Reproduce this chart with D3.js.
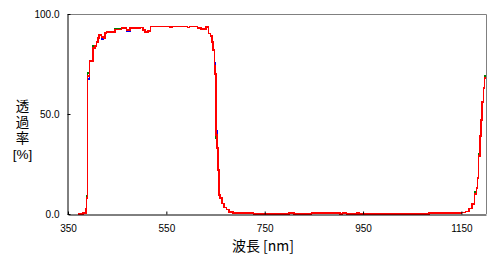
<!DOCTYPE html>
<html>
<head>
<meta charset="utf-8">
<script src="https://cdn.jsdelivr.net/npm/d3@7"></script>
<style>
  body { margin: 0; background: #fff; }
  text { font-family: "Liberation Sans", Arial, sans-serif; }
  .ttl { font-family: "Noto Sans CJK JP", sans-serif; font-size: 14px; }
  .ytl { font-family: "Liberation Sans", "Noto Sans CJK JP", sans-serif; font-size: 13.5px; }
</style>
</head>
<body>
<div id="chart"></div>
<script>
// wavelength steps [nm] and transmittance [%] for three measurements
const wavelength = [370, 381, 386, 388, 390, 394, 401, 405, 408, 411,
  413, 418, 422, 425, 428, 445, 459, 469, 476, 496,
  503, 506, 513, 518, 557, 561, 593, 597, 613, 618,
  621, 625, 631, 636, 640, 642.5, 645, 647.5, 649, 650.5,
  651.5, 653.5, 655.5, 657, 659.5, 663, 667, 672, 678, 685,
  727, 800, 810, 845, 903, 908, 916, 938, 942, 1084,
  1150, 1158, 1165, 1172, 1177, 1181, 1183, 1185, 1188, 1190,
  1192, 1195, 1197, 1200];

const redT = [0, 0.5, 2.5, 8, 69, 76.5, 83, 84, 86, 88,
  89.5, 88.5, 88, 90.5, 91, 92.3, 93, 92, 93, 93.3,
  92, 91, 91.5, 93.8, 93.3, 93.8, 93.3, 93.8, 93, 93.3,
  92.2, 92.6, 93.4, 90.3, 89, 86, 82, 74, 70, 60.5,
  39.5, 33, 22, 9.5, 8, 5.3, 3.3, 2.3, 1, 0.4,
  0, 0.4, 0, 0.4, 0, 0.4, 0, 0.4, 0, 0.4,
  0.8, 1.2, 2.8, 5, 10, 13, 18, 29, 39, 47,
  56, 63, 68, 68];

const greenT = [0, 0.5, 2.5, 9, 70.5, 76.5, 84, 84, 86, 88,
  89.5, 88.5, 88, 90.5, 91, 92.6, 93, 92, 93, 93.3,
  92, 91, 91.5, 93.8, 93.3, 93.8, 93.3, 93.8, 93, 93.3,
  92.2, 92.6, 93.4, 90.3, 89, 86, 82, 73, 70, 60.5,
  38, 33, 22, 9.5, 8, 5.3, 3.3, 2.3, 1, 0.4,
  0, 0.4, 0, 0.4, 0, 0.4, 0.3, 0.4, 0, 0.4,
  0.8, 1.2, 2.8, 5, 11, 13, 18, 30, 39, 47,
  56, 63, 69, 69];

const blueT = [0, 0.5, 2.5, 8, 67.5, 76.5, 83, 84, 86, 88,
  89.5, 87.5, 88, 90.5, 91, 92.3, 93, 91.5, 93, 93.3,
  92, 91, 91.5, 93.8, 93.3, 93.8, 93.3, 93.8, 93, 93.3,
  92.2, 92.6, 93.4, 90.3, 89, 86, 82, 75.5, 70, 60.5,
  41.5, 33, 22, 9.5, 8, 5.3, 3.3, 2.3, 1, 0.4,
  0, 0.4, 0.3, 0.4, 0, 0.4, 0, 0.4, 0, 0.6,
  0.8, 1.2, 2.8, 5, 10, 13, 18, 29, 39, 47,
  56, 63, 68, 68];

const xTicks = [350, 550, 750, 950, 1150];
const yTicks = [0, 50, 100];

const width = 501, height = 260;
const plotL = 68, plotR = 486, plotT = 14, plotB = 214;

const svg = d3.select("#chart").append("svg")
  .attr("width", width)
  .attr("height", height);

const x = d3.scaleLinear().domain([350, 1200]).range([plotL, plotR]);
const y = d3.scaleLinear().domain([0, 100]).range([plotB, plotT]);

// gray frame on top and right
svg.append("path")
  .attr("d", `M${plotL},${plotT + 0.5}H${plotR + 0.5}V${plotB}`)
  .attr("fill", "none")
  .attr("stroke", "#808080")
  .attr("stroke-width", 1);

const line = vals => d3.line()
  .x((d, i) => x(wavelength[i]))
  .y(d => y(d))
  .curve(d3.curveStepAfter)(vals);

[["green", greenT], ["#0000ff", blueT], ["#ff0000", redT]].forEach(s => {
  svg.append("path")
    .attr("d", line(s[1]))
    .attr("fill", "none")
    .attr("stroke", s[0])
    .attr("stroke-width", 1.6)
    .attr("shape-rendering", "crispEdges");
});

// axes drawn on top of the curves
svg.append("g")
  .attr("transform", `translate(0,${plotB + 0.5})`)
  .call(d3.axisBottom(x).tickValues(xTicks).tickFormat(d3.format("d"))
    .tickSizeInner(-3).tickSizeOuter(0).tickPadding(10))
  .call(g => g.selectAll("text").attr("font-size", 10).attr("fill", "#000")
    .attr("font-family", "Liberation Sans, Arial, sans-serif"))
  .call(g => g.selectAll("line,path").attr("stroke", "#000"));

svg.append("g")
  .attr("transform", `translate(${plotL - 0.5},0)`)
  .call(d3.axisLeft(y).tickValues(yTicks).tickFormat(d3.format(".1f"))
    .tickSizeInner(-3).tickSizeOuter(0).tickPadding(8))
  .call(g => g.selectAll("text").attr("font-size", 10).attr("fill", "#000")
    .attr("font-family", "Liberation Sans, Arial, sans-serif"))
  .call(g => g.selectAll("line,path").attr("stroke", "#000"));

// axis titles
svg.append("text")
  .attr("class", "ttl")
  .attr("x", 263).attr("y", 251)
  .attr("text-anchor", "middle")
  .text("波長 [nm]");

const yTitle = ["透", "過", "率", "[%]"];
svg.append("text")
  .attr("class", "ytl")
  .attr("text-anchor", "middle")
  .selectAll("tspan").data(yTitle).enter().append("tspan")
  .attr("x", 22.5)
  .attr("y", (d, i) => 111 + i * 16)
  .text(d => d);
</script>
</body>
</html>
